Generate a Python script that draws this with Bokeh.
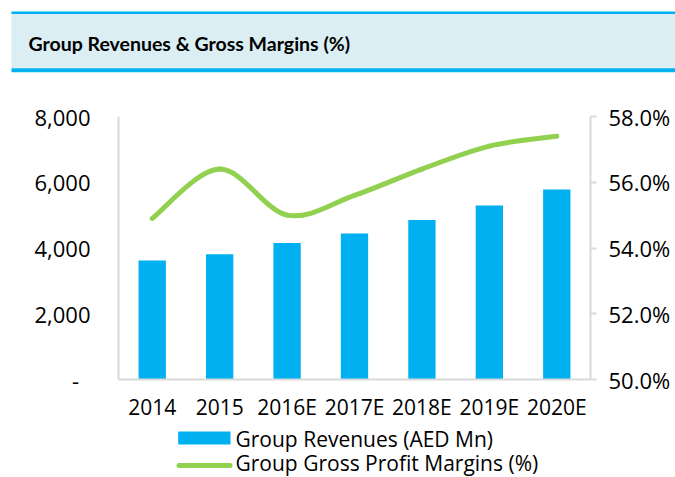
from bokeh.plotting import figure
from bokeh.models import (Range1d, LinearAxis, FixedTicker, PrintfTickFormatter,
                          NumeralTickFormatter)
from bokeh.layouts import column
from bokeh.embed import file_html
from bokeh.resources import INLINE
from bokeh.core.properties import value

# ---------------- data ----------------
title_text = "Group Revenues & Gross Margins (%)"
years = ["2014", "2015", "2016E", "2017E", "2018E", "2019E", "2020E"]
revenues = [3620, 3810, 4150, 4440, 4850, 5290, 5780]          # AED Mn
margins = [54.9, 56.4, 55.0, 55.6, 56.4, 57.1, 57.4]           # %
rev_ticks = [0, 2000, 4000, 6000, 8000]
pct_ticks = [50, 52, 54, 56, 58]
rev_label = "Group Revenues (AED Mn)"
margin_label = "Group Gross Profit Margins (%)"

# ---------------- style ----------------
BLUE = "#00B0F0"
GREEN = "#92D050"
BAND = "#DAEEF3"
AXIS = "#D9D9D9"
FONT = "Open Sans"
W = 675


def bare(fig):
    fig.xaxis.visible = False
    fig.yaxis.visible = False
    fig.xgrid.visible = False
    fig.ygrid.visible = False
    fig.outline_line_color = None
    fig.frame_align = False


# ---------------- header bar ----------------
HH = 74
h = figure(width=W, height=HH, x_range=Range1d(0, W), y_range=Range1d(HH, 0),
           output_backend="svg", toolbar_location=None, min_border=0)
bare(h)
h.quad(left=[11], right=[W], top=[13.5], bottom=[67.7], fill_color=BAND, line_color=None)
h.quad(left=[11, 11], right=[W, W], top=[11, 67.7], bottom=[13.5, 71.7],
       fill_color=BLUE, line_color=None)
h.text(x=[28], y=[43], text=[title_text], text_font=value("Lato"), text_font_style="bold",
       text_font_size="19.5px", text_baseline="middle", text_color="black")

# ---------------- main chart ----------------
xs = list(range(1, len(years) + 1))
p = figure(width=W, height=349, x_range=Range1d(0.5, len(years) + 0.5),
           y_range=Range1d(0, 8000), output_backend="svg", toolbar_location=None,
           min_border_left=118, min_border_right=85, min_border_top=42, min_border_bottom=44)
p.frame_align = False
p.extra_y_ranges = {"pct": Range1d(50, 58)}
p.xgrid.visible = False
p.ygrid.visible = False
p.outline_line_color = None

bars = p.vbar(x=xs, top=revenues, width=0.405, fill_color=BLUE, line_color=None)

# smoothed line (Catmull-Rom style bezier through the data points)
n = len(xs)
x0s, y0s, x1s, y1s, cx0, cy0, cx1, cy1 = [], [], [], [], [], [], [], []
for i in range(n - 1):
    xp, yp = (xs[i - 1], margins[i - 1]) if i > 0 else (xs[i], margins[i])
    xn2, yn2 = (xs[i + 2], margins[i + 2]) if i + 2 < n else (xs[i + 1], margins[i + 1])
    x0s.append(xs[i]); y0s.append(margins[i])
    x1s.append(xs[i + 1]); y1s.append(margins[i + 1])
    cx0.append(xs[i] + (xs[i + 1] - xp) / 6.0)
    cy0.append(margins[i] + (margins[i + 1] - yp) / 6.0)
    cx1.append(xs[i + 1] - (xn2 - xs[i]) / 6.0)
    cy1.append(margins[i + 1] - (yn2 - margins[i]) / 6.0)
curve = p.bezier(x0=x0s, y0=y0s, x1=x1s, y1=y1s, cx0=cx0, cy0=cy0, cx1=cx1, cy1=cy1,
                 line_color=GREEN, line_width=5, line_cap="round", y_range_name="pct")

# axes
xa = p.xaxis[0]
xa.ticker = FixedTicker(ticks=xs)
xa.major_label_overrides = {x: y for x, y in zip(xs, years)}
xa.axis_line_color = AXIS
xa.axis_line_width = 2
xa.major_tick_line_color = None
xa.minor_tick_line_color = None
xa.major_tick_out = 0
xa.major_label_standoff = 13
xa.major_label_text_font = FONT
xa.major_label_text_font_size = "21px"
xa.major_label_text_color = "black"

ya = p.yaxis[0]
ya.ticker = FixedTicker(ticks=rev_ticks)
ya.formatter = NumeralTickFormatter(format="0,0")
ya.major_label_overrides = {0: "-\u00a0\u00a0"}
ya.axis_line_color = AXIS
ya.axis_line_width = 2
ya.major_tick_line_color = None
ya.minor_tick_line_color = None
ya.major_tick_out = 0
ya.major_label_standoff = 28
ya.major_label_text_font = FONT
ya.major_label_text_font_size = "22px"
ya.major_label_text_color = "black"

ra = LinearAxis(y_range_name="pct", ticker=FixedTicker(ticks=pct_ticks),
                formatter=PrintfTickFormatter(format="%.1f%%"))
ra.axis_line_color = AXIS
ra.axis_line_width = 2
ra.major_tick_line_color = AXIS
ra.major_tick_line_width = 2
ra.major_tick_in = 0
ra.major_tick_out = 6
ra.minor_tick_line_color = None
ra.major_label_standoff = 12
ra.major_label_text_font = FONT
ra.major_label_text_font_size = "22px"
ra.major_label_text_color = "black"
p.add_layout(ra, "right")

# ---------------- legend strip ----------------
LH = 54
lg = figure(width=W, height=LH, x_range=Range1d(0, W), y_range=Range1d(LH, 0),
            output_backend="svg", toolbar_location=None, min_border=0)
bare(lg)
lg.quad(left=[177.7], right=[230], top=[8], bottom=[21], fill_color=BLUE, line_color=None)
lg.line(x=[178.5, 229.5], y=[42, 42], line_color=GREEN, line_width=5, line_cap="round")
lg.text(x=[235, 235], y=[15, 39], text=[rev_label, margin_label], text_font=value(FONT),
        text_font_size="21px", text_baseline="middle", text_color="black")

layout = column(h, p, lg, spacing=0)
open("out.html", "w").write(file_html(layout, INLINE))
